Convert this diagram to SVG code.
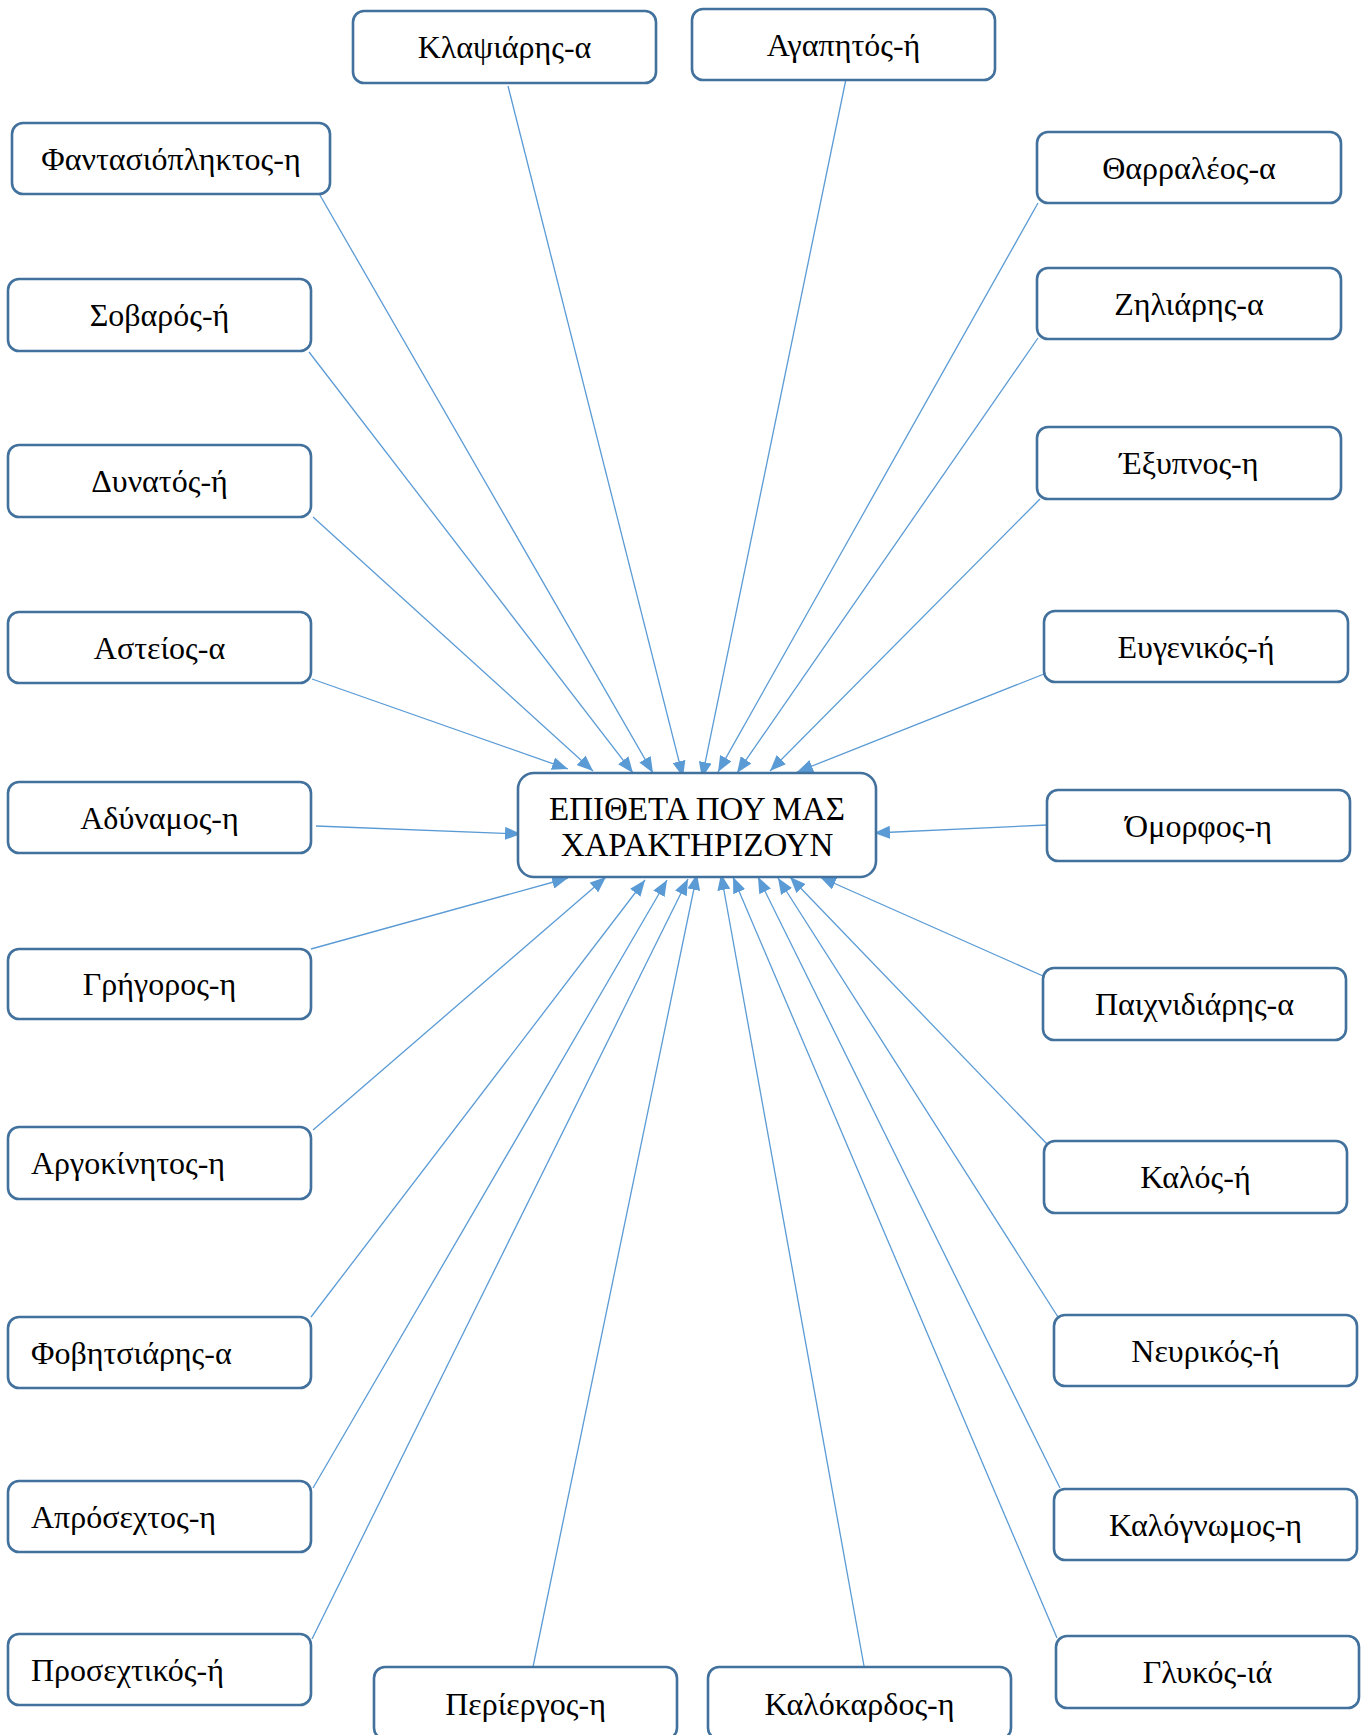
<svg xmlns="http://www.w3.org/2000/svg" width="1368" height="1735" viewBox="0 0 1368 1735">
<style>
.box{fill:#fff;stroke:#41719C;stroke-width:2.6}
.t{font-family:"Liberation Serif","Times New Roman",serif;font-size:32px;fill:#000;text-anchor:middle}
.ct{font-size:33px}
.l{text-anchor:start}
.c{stroke:#5B9BD5;stroke-width:1.3;fill:none;marker-end:url(#ah)}
</style>
<defs>
<marker id="ah" markerUnits="userSpaceOnUse" markerWidth="17" markerHeight="13" refX="16" refY="6.5" orient="auto" viewBox="0 0 17 13">
<path d="M0,0 L16,6.5 L0,13 z" fill="#5B9BD5"/>
</marker>
</defs>
<rect width="1368" height="1735" fill="#fff"/>
<g id="connectors">
<line class="c" x1="317" y1="190" x2="653" y2="773"/>
<line class="c" x1="508" y1="86" x2="683" y2="777"/>
<line class="c" x1="846" y1="79" x2="702" y2="778"/>
<line class="c" x1="1038" y1="203" x2="718" y2="772"/>
<line class="c" x1="309" y1="352" x2="633" y2="773"/>
<line class="c" x1="1038" y1="338" x2="737" y2="773"/>
<line class="c" x1="313" y1="517" x2="593" y2="771"/>
<line class="c" x1="1040" y1="499" x2="770" y2="771"/>
<line class="c" x1="312" y1="679" x2="568" y2="769"/>
<line class="c" x1="1044" y1="674" x2="797" y2="772"/>
<line class="c" x1="316" y1="826" x2="521" y2="834"/>
<line class="c" x1="1047" y1="825" x2="874" y2="833"/>
<line class="c" x1="311" y1="949" x2="568" y2="878"/>
<line class="c" x1="1043" y1="976" x2="820" y2="877"/>
<line class="c" x1="313" y1="1130" x2="606" y2="877"/>
<line class="c" x1="1047" y1="1144" x2="790" y2="877"/>
<line class="c" x1="311" y1="1317" x2="645" y2="880"/>
<line class="c" x1="1058" y1="1317" x2="778" y2="878"/>
<line class="c" x1="313" y1="1488" x2="667" y2="880"/>
<line class="c" x1="1060" y1="1488" x2="758" y2="877"/>
<line class="c" x1="312" y1="1639" x2="688" y2="879"/>
<line class="c" x1="533" y1="1667" x2="697" y2="874"/>
<line class="c" x1="864" y1="1666" x2="721" y2="874"/>
<line class="c" x1="1057" y1="1638" x2="733" y2="877"/>
</g>
<g id="center"><rect class="box" x="518" y="773" width="358" height="104" rx="16"/><text class="t ct" x="697" y="820">ΕΠΙΘΕΤΑ ΠΟΥ ΜΑΣ</text><text class="t ct" x="697" y="856">ΧΑΡΑΚΤΗΡΙΖΟΥΝ</text></g>
<g id="n1"><rect class="box" x="353" y="11" width="303" height="72" rx="11"/><text class="t" x="504.5" y="58">Κλαψιάρης-α</text></g>
<g id="n2"><rect class="box" x="692" y="9" width="303" height="71" rx="11"/><text class="t" x="843.5" y="56">Αγαπητός-ή</text></g>
<g id="n3"><rect class="box" x="12" y="123" width="318" height="71" rx="11"/><text class="t" x="171" y="170">Φαντασιόπληκτος-η</text></g>
<g id="n4"><rect class="box" x="1037" y="132" width="304" height="71" rx="11"/><text class="t" x="1189" y="179">Θαρραλέος-α</text></g>
<g id="n5"><rect class="box" x="8" y="279" width="303" height="72" rx="11"/><text class="t" x="159.5" y="326">Σοβαρός-ή</text></g>
<g id="n6"><rect class="box" x="1037" y="268" width="304" height="71" rx="11"/><text class="t" x="1189" y="315">Ζηλιάρης-α</text></g>
<g id="n7"><rect class="box" x="8" y="445" width="303" height="72" rx="11"/><text class="t" x="159.5" y="492">Δυνατός-ή</text></g>
<g id="n8"><rect class="box" x="1037" y="427" width="304" height="72" rx="11"/><text class="t" x="1189" y="474">Έξυπνος-η</text></g>
<g id="n9"><rect class="box" x="8" y="612" width="303" height="71" rx="11"/><text class="t" x="159.5" y="659">Αστείος-α</text></g>
<g id="n10"><rect class="box" x="1044" y="611" width="304" height="71" rx="11"/><text class="t" x="1196" y="658">Ευγενικός-ή</text></g>
<g id="n11"><rect class="box" x="8" y="782" width="303" height="71" rx="11"/><text class="t" x="159.5" y="829">Αδύναμος-η</text></g>
<g id="n12"><rect class="box" x="1047" y="790" width="303" height="71" rx="11"/><text class="t" x="1198.5" y="837">Όμορφος-η</text></g>
<g id="n13"><rect class="box" x="8" y="949" width="303" height="70" rx="11"/><text class="t" x="159.5" y="995">Γρήγορος-η</text></g>
<g id="n14"><rect class="box" x="1043" y="968" width="303" height="72" rx="11"/><text class="t" x="1194.5" y="1015">Παιχνιδιάρης-α</text></g>
<g id="n15"><rect class="box" x="8" y="1127" width="303" height="72" rx="11"/><text class="t l" x="31" y="1174">Αργοκίνητος-η</text></g>
<g id="n16"><rect class="box" x="1044" y="1141" width="303" height="72" rx="11"/><text class="t" x="1195.5" y="1188">Καλός-ή</text></g>
<g id="n17"><rect class="box" x="8" y="1317" width="303" height="71" rx="11"/><text class="t l" x="31" y="1364">Φοβητσιάρης-α</text></g>
<g id="n18"><rect class="box" x="1054" y="1315" width="303" height="71" rx="11"/><text class="t" x="1205.5" y="1362">Νευρικός-ή</text></g>
<g id="n19"><rect class="box" x="8" y="1481" width="303" height="71" rx="11"/><text class="t l" x="31" y="1528">Απρόσεχτος-η</text></g>
<g id="n20"><rect class="box" x="1054" y="1489" width="303" height="71" rx="11"/><text class="t" x="1205.5" y="1536">Καλόγνωμος-η</text></g>
<g id="n21"><rect class="box" x="8" y="1634" width="303" height="71" rx="11"/><text class="t l" x="31" y="1681">Προσεχτικός-ή</text></g>
<g id="n22"><rect class="box" x="374" y="1667" width="303" height="72" rx="11"/><text class="t" x="525.5" y="1715">Περίεργος-η</text></g>
<g id="n23"><rect class="box" x="708" y="1667" width="303" height="72" rx="11"/><text class="t" x="859.5" y="1715">Καλόκαρδος-η</text></g>
<g id="n24"><rect class="box" x="1056" y="1636" width="303" height="72" rx="11"/><text class="t" x="1207.5" y="1683">Γλυκός-ιά</text></g>
</svg>
